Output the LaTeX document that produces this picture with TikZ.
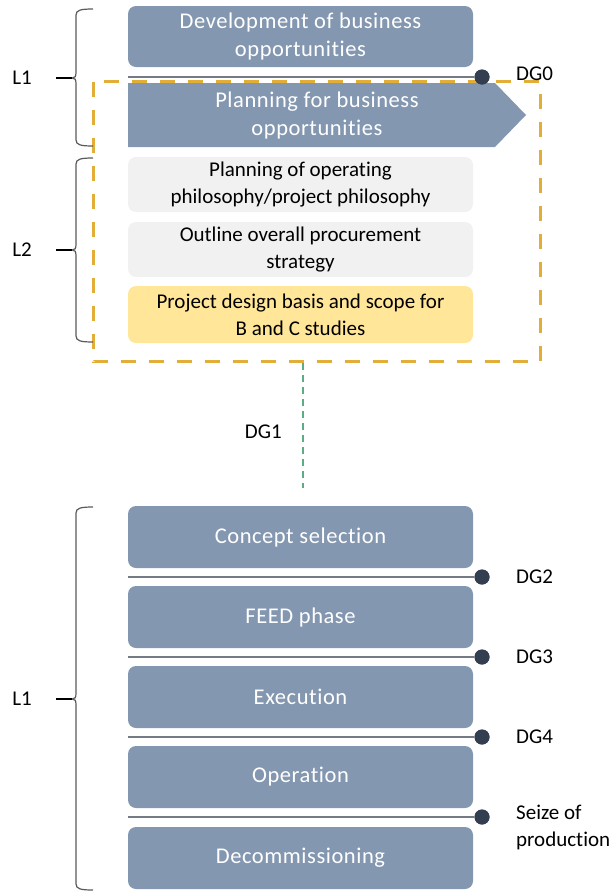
\documentclass[tikz,border=0pt]{standalone}
\usepackage{fontspec}
\setmainfont{Carlito}[Ligatures={NoCommon}]
\newfontfamily\widefont{Carlito}[Ligatures={NoCommon}, LetterSpace=2.5]
\usetikzlibrary{calc}

\definecolor{phaseblue}{HTML}{8497B0}
\definecolor{stepgrey}{HTML}{F1F1F1}
\definecolor{stepyellow}{HTML}{FFE699}
\definecolor{gateline}{HTML}{757B85}
\definecolor{gatedot}{HTML}{333F50}
\definecolor{framegold}{HTML}{E2AE38}
\definecolor{linkgreen}{HTML}{5BAE82}
\definecolor{bracegrey}{HTML}{5A5A5A}

% curly side brace: top y, tip y, bottom y
\newcommand\sidebrace[3]{%
  \draw[bracepath] (93,#1) .. controls (81,#1) and (76,{#1+1}) .. (76,{#1+6})
    -- (76,{#2-6}) .. controls (76,{#2-1}) and (75,#2) .. (72,#2)
    .. controls (75,#2) and (76,{#2+1}) .. (76,{#2+6})
    -- (76,{#3-6}) .. controls (76,{#3-1}) and (81,#3) .. (93,#3);
  \draw[bracetick] (56,#2) -- (72,#2);
}

\begin{document}
\begin{tikzpicture}[x=1pt,y=-1pt,
  font=\fontsize{21}{27}\selectfont,
  phasefont/.style={font=\widefont\fontsize{22.5}{28}\selectfont},
  phase/.style={fill=phaseblue, text=white, rounded corners=8pt,
    minimum width=345pt, inner sep=0pt, align=center, phasefont},
  greystep/.style={fill=stepgrey, text=black, rounded corners=8pt,
    minimum width=345pt, inner sep=0pt, align=center},
  yellowstep/.style={greystep, fill=stepyellow},
  gate/.style={draw=gateline, line width=2pt},
  gatedot/.style={circle, fill=gatedot, minimum size=15pt, inner sep=0pt},
  gatelabel/.style={anchor=west, inner sep=0pt, text=black, align=left},
  sidelabel/.style={inner sep=0pt, text=black},
  bracepath/.style={draw=bracegrey, line width=1.2pt},
  bracetick/.style={draw=black, line width=1.6pt},
  frame/.style={draw=framegold, line width=3pt, dash pattern=on 15pt off 13pt},
  greenlink/.style={draw=linkgreen, line width=2pt, dash pattern=on 7pt off 5pt}]

\useasboundingbox (0,0) rectangle (615,892);

% dashed frame around the early planning steps
\draw[frame] (93,81.5) rectangle (540,361.5);

% upper phase group
\node[phase, minimum height=61pt] (dev) at (300.5,36.5)
  {Development of business\\opportunities};
\fill[phaseblue] (128,83) -- (495,83) -- (526,115) -- (495,147) -- (128,147) -- cycle;
\node[text=white, align=center, inner sep=0pt, phasefont] (plan) at (317,115)
  {Planning for business\\opportunities};
\node[greystep, minimum height=55pt] (opphil) at (300.5,184.5)
  {Planning of operating\\philosophy/project philosophy};
\node[greystep, minimum height=55pt] (procure) at (300.5,249.5)
  {Outline overall procurement\\strategy};
\node[yellowstep, minimum height=57pt] (basis) at (300.5,314.5)
  {Project design basis and scope for\\B and C studies};

% DG0 gate
\coordinate (g0s) at (128,77);
\node[gatedot] (g0) at (482,77) {};
\draw[gate] (g0s) -- (g0);
\node[gatedot] at (g0) {};
\node[gatelabel] (g0l) at (516,74) {DG0};

% DG1 link between the two groups
\coordinate (l1a) at (303,363);
\coordinate (l1b) at (303,488);
\draw[greenlink] (l1a) -- (l1b);
\node[sidelabel, anchor=east] (dg1) at (282,432) {DG1};

% lower phase group
\node[phase, minimum height=62pt] (concept) at (300.5,537) {Concept selection};
\node[phase, minimum height=62pt] (feed) at (300.5,617) {FEED phase};
\node[phase, minimum height=62pt] (exec) at (300.5,697) {Execution};
\node[phase, minimum height=62pt] (oper) at (300.5,777) {Operation};
\node[phase, minimum height=62pt] (decom) at (300.5,858) {Decommissioning};

% decision gates
\foreach \n/\yy in {2/577, 3/657, 4/737, 5/817}{
  \coordinate (g\n s) at (128,\yy);
  \node[gatedot] (g\n) at (482,\yy) {};
  \draw[gate] (g\n s) -- (g\n);
  \node[gatedot] at (g\n) {};
}
\node[gatelabel] (g2l) at (516,577) {DG2};
\node[gatelabel] (g3l) at (516,657) {DG3};
\node[gatelabel] (g4l) at (516,737) {DG4};
\node[gatelabel] (g5l) at (516,827) {Seize of\\production};

% level braces
\sidebrace{9}{78}{146}
\node[sidelabel] (lvA) at (22,78) {L1};
\sidebrace{158}{250}{342}
\node[sidelabel] (lvB) at (22,250) {L2};
\sidebrace{507}{699}{890}
\node[sidelabel] (lvC) at (22,699) {L1};

\end{tikzpicture}
\end{document}
